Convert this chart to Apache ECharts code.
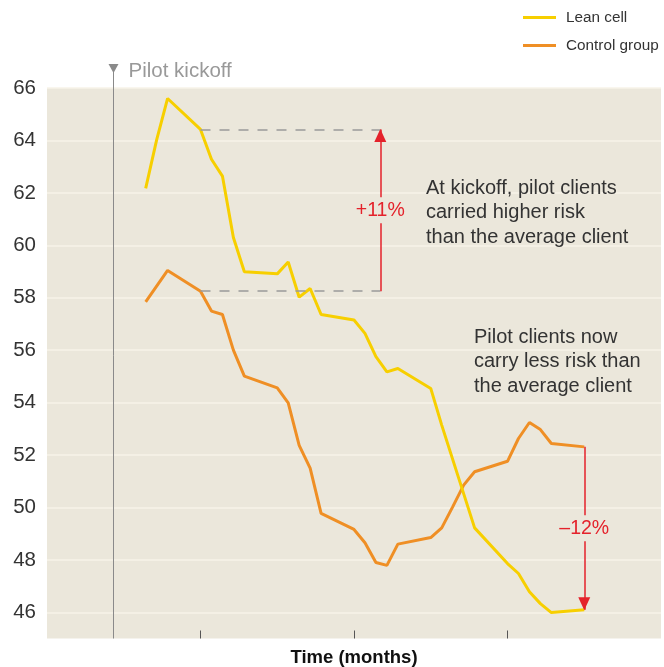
<!DOCTYPE html>
<html><head><meta charset="utf-8">
<script src="https://cdn.jsdelivr.net/npm/echarts@6/dist/echarts.min.js"></script>
<style>html,body{margin:0;padding:0;background:#fff}#c{width:664px;height:667px}</style>
</head><body><div id="c"></div>
<script>
// ---- data ----
const leanMonths = [0,1,2,5,6,7,8,9,12,13,14,15,16,19,20,21,22,23,26,27,30,33,34,35,36,37,40];
const leanValues = [62.17,64.02,65.6,64.42,63.28,62.64,60.3,58.99,58.91,59.36,58.02,58.35,57.36,57.15,56.64,55.75,55.17,55.3,54.54,53.14,49.22,47.86,47.48,46.78,46.33,45.99,46.1];
const controlMonths = [0,2,5,6,7,8,9,12,13,14,15,16,19,20,21,22,23,26,27,28,29,30,33,34,35,36,37,40];
const controlValues = [57.84,59.04,58.25,57.49,57.36,56.0,55.01,54.56,53.99,52.37,51.5,49.77,49.16,48.65,47.9,47.79,48.6,48.85,49.22,50.02,50.85,51.36,51.76,52.63,53.24,52.97,52.44,52.31];
const yTickValues = [46,48,50,52,54,56,58,60,62,64,66];
const xTickValues = [5,19,33];
const seriesNames = ['Lean cell','Control group'];
const kickoffMonth = -3;      // "Pilot kickoff" marker
const compareMonth = 5;       // start of comparison
const startArrowMonth = 21.4; // +11% arrow position
const endMonth = 40;          // -12% arrow position
const startDiffLabel = '+11%';
const endDiffLabel = '\u201312%';

const FONT = '"Liberation Sans", Arial, Helvetica, sans-serif';
const BG = '#ebe7db';
const YELLOW = '#f7cf00';
const ORANGE = '#ef8f25';
const RED = '#e4222b';

const lean = leanMonths.map((m, i) => [m, leanValues[i]]);
const control = controlMonths.map((m, i) => [m, controlValues[i]]);
const leanStart = leanValues[leanMonths.indexOf(compareMonth)];
const ctrlStart = controlValues[controlMonths.indexOf(compareMonth)];
const leanEnd = leanValues[leanMonths.indexOf(endMonth)];
const ctrlEnd = controlValues[controlMonths.indexOf(endMonth)];

const chart = echarts.init(document.getElementById('c'), null, {renderer: 'canvas'});
const dashStyle = {color: '#9a9a9a', width: 1.5, type: [10, 9]};

chart.setOption({
  animation: false,
  textStyle: {fontFamily: FONT},
  grid: {left: 47, right: 3, top: 88, bottom: 28.5, show: true, backgroundColor: BG, borderWidth: 0,
         containLabel: false, outerBoundsMode: 'none'},
  legend: {
    data: seriesNames, orient: 'vertical', left: 518, top: 5,
    itemWidth: 33, itemHeight: 3, icon: 'rect', itemGap: 13,
    textStyle: {fontSize: 15.3, color: '#333', fontFamily: FONT, padding: [0, 0, 0, 5]}
  },
  xAxis: {
    type: 'value', min: -9, max: 47,
    axisLine: {show: false},
    axisTick: {show: true, inside: true, length: 8, customValues: xTickValues, lineStyle: {color: '#555', width: 1}},
    axisLabel: {show: false},
    splitLine: {show: false},
    name: 'Time (months)', nameLocation: 'middle', nameGap: 10,
    nameTextStyle: {fontWeight: 'bold', fontSize: 18.5, color: '#111', fontFamily: FONT, verticalAlign: 'top'}
  },
  yAxis: {
    type: 'value', min: 45, max: 66,
    axisLine: {show: false},
    axisTick: {show: false, customValues: yTickValues},
    axisLabel: {customValues: yTickValues, fontSize: 20.5, color: '#333', margin: 11, fontFamily: FONT},
    splitLine: {show: true, lineStyle: {color: '#f7f3e8', width: 1.5}}
  },
  series: [
    {
      name: seriesNames[1], type: 'line', data: control, showSymbol: false, symbol: 'none',
      color: ORANGE, lineStyle: {color: ORANGE, width: 3}, silent: true, z: 3,
      markLine: {silent: true, symbol: ['none', 'none'], label: {show: false}, lineStyle: dashStyle,
        data: [[{coord: [compareMonth, ctrlStart]}, {coord: [startArrowMonth, ctrlStart]}]]}
    },
    {
      name: seriesNames[0], type: 'line', data: lean, showSymbol: false, symbol: 'none',
      color: YELLOW, lineStyle: {color: YELLOW, width: 3}, silent: true, z: 4,
      markLine: {silent: true, symbol: ['none', 'none'], label: {show: false}, lineStyle: dashStyle,
        data: [[{coord: [compareMonth, leanStart]}, {coord: [startArrowMonth, leanStart]}]]}
    },
    {
      name: 'arrows', type: 'line', data: [], silent: true, z: 5,
      markLine: {
        silent: true, symbol: ['none', 'triangle'], symbolSize: [12, 13],
        symbolOffset: [[0, 0], [0, 6]],
        label: {show: false}, lineStyle: {color: RED, width: 1.5, type: 'solid'},
        itemStyle: {color: RED},
        data: [
          [{coord: [startArrowMonth, ctrlStart]}, {coord: [startArrowMonth, leanStart]}],
          [{coord: [endMonth, ctrlEnd]}, {coord: [endMonth, leanEnd]}]
        ]
      },
      markPoint: {
        silent: true, symbol: 'rect', symbolSize: [54, 26], z: 10,
        itemStyle: {color: BG},
        label: {show: true, position: 'inside', color: RED, fontSize: 19.5, fontFamily: FONT, formatter: '{b}'},
        data: [
          {name: startDiffLabel, coord: [startArrowMonth, (leanStart + ctrlStart) / 2]},
          {name: endDiffLabel, coord: [endMonth, (leanEnd + ctrlEnd) / 2]}
        ]
      }
    }
  ]
});

const pTop = chart.convertToPixel({gridIndex: 0}, [kickoffMonth, 66]);
const pBot = chart.convertToPixel({gridIndex: 0}, [kickoffMonth, 45]);
const kx = Math.round(pTop[0]) + 0.5;
chart.setOption({
  graphic: [
    {type: 'line', silent: true, z: 50, shape: {x1: kx, y1: pTop[1] - 16, x2: kx, y2: pBot[1]}, style: {stroke: '#8a8a8a', lineWidth: 1}},
    {type: 'polygon', silent: true, z: 50, shape: {points: [[kx - 5, pTop[1] - 24], [kx + 5, pTop[1] - 24], [kx, pTop[1] - 15]]}, style: {fill: '#8a8a8a'}},
    {type: 'text', silent: true, z: 50, x: kx + 15, y: pTop[1] - 17, style: {text: 'Pilot kickoff', fontSize: 20.5, fontFamily: FONT, fill: '#999', verticalAlign: 'middle'}},
    {type: 'text', silent: true, z: 50, left: 426, top: 176, style: {text: 'At kickoff, pilot clients\ncarried higher risk\nthan the average client', fontSize: 20, fontFamily: FONT, fill: '#333', lineHeight: 24.5}},
    {type: 'text', silent: true, z: 50, left: 474, top: 325, style: {text: 'Pilot clients now\ncarry less risk than\nthe average client', fontSize: 20, fontFamily: FONT, fill: '#333', lineHeight: 24.5}}
  ]
});
</script></body></html>
